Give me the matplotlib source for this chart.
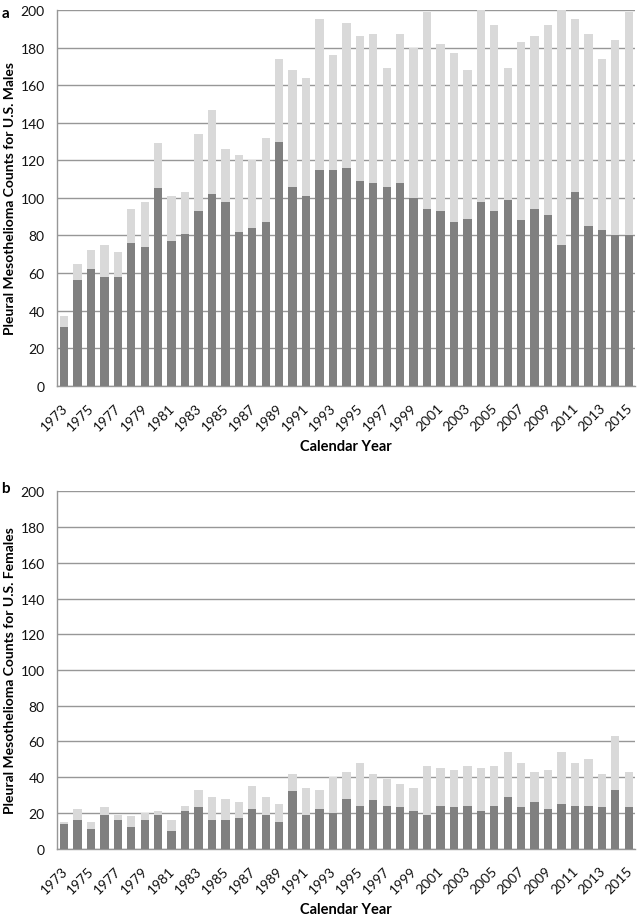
import matplotlib.pyplot as plt
import matplotlib.transforms as mtransforms
import numpy as np

# Calendar years shown on both panels
years = list(range(1973, 2016))

# panel a - U.S. males (dark part and full bar height)
male_dark = [31, 56, 62, 58, 58, 76, 74, 105, 77, 81, 93, 102, 98, 82, 84, 87,
             130, 106, 101, 115, 115, 116, 109, 108, 106, 108, 100, 94, 93, 87,
             89, 98, 93, 99, 88, 94, 91, 75, 103, 85, 83, 80, 80]
male_total = [37, 65, 72, 75, 71, 94, 98, 129, 101, 103, 134, 147, 126, 123, 120,
              132, 174, 168, 164, 195, 176, 193, 186, 187, 169, 187, 180, 199, 182,
              177, 168, 200, 192, 169, 183, 186, 192, 200, 195, 187, 174, 184, 199]

# panel b - U.S. females
female_dark = [14, 16, 11, 19, 16, 12, 16, 19, 10, 21, 23, 16, 16, 17, 22, 19, 15,
               32, 19, 22, 20, 28, 24, 27, 24, 23, 21, 19, 24, 23, 24, 21, 24, 29,
               23, 26, 22, 25, 24, 24, 23, 33, 23]
female_total = [15, 22, 15, 23, 19, 18, 20, 21, 16, 24, 33, 29, 28, 26, 35, 29, 25,
                42, 34, 33, 40, 43, 48, 42, 39, 36, 34, 46, 45, 44, 46, 45, 46, 54,
                48, 43, 44, 54, 48, 50, 42, 63, 43]

plt.rcParams['font.family'] = ['Lato', 'DejaVu Sans']

DARK = '#808080'
LIGHT = '#d9d9d9'
GRID = '#979797'

fig = plt.figure(figsize=(6.38, 9.2), dpi=100)
ax_a = fig.add_axes([0.0898, 0.5797, 0.9062, 0.4083])
ax_b = fig.add_axes([0.0898, 0.0766, 0.9062, 0.3881])


def draw_panel(ax, dark, total, ylabel):
    x = np.arange(len(years))
    ax.bar(x, total, width=0.62, color=LIGHT, zorder=2)
    ax.bar(x, dark, width=0.62, color=DARK, zorder=3)
    ax.set_xlim(-0.5, len(years) - 0.5)
    ax.set_ylim(0, 200)
    ax.set_yticks(range(0, 201, 20))
    ax.yaxis.grid(True, color=GRID, linewidth=1.0, zorder=1)
    ax.set_axisbelow(True)
    for side in ('top', 'right'):
        ax.spines[side].set_visible(False)
    for side in ('left', 'bottom'):
        ax.spines[side].set_color(GRID)
        ax.spines[side].set_linewidth(1.0)

    ax.set_xticks(x[::2])
    ax.set_xticklabels([str(y) for y in years[::2]], rotation=45, ha='right',
                       rotation_mode='anchor', fontsize=10)
    ax.tick_params(axis='both', length=0, colors='#111111')
    ax.tick_params(axis='x', pad=11)
    ax.tick_params(axis='y', pad=9, labelsize=10)
    # nudge the slanted year labels a little to the left
    shift = mtransforms.ScaledTranslation(-3 / 100, 0, fig.dpi_scale_trans)
    for lbl in ax.get_xticklabels():
        lbl.set_transform(lbl.get_transform() + shift)

    h = ax.get_position().height * fig.get_figheight() * fig.dpi
    w = ax.get_position().width * fig.get_figwidth() * fig.dpi
    ax.set_ylabel(ylabel, fontsize=10, fontweight='bold')
    ax.yaxis.set_label_coords(-41 / w, 0.5)
    ax.set_xlabel('Calendar Year', fontsize=10.5, fontweight='bold', va='center')
    ax.xaxis.set_label_coords(0.5, -60 / h)


draw_panel(ax_a, male_dark, male_total, 'Pleural Mesothelioma Counts for U.S. Males')
draw_panel(ax_b, female_dark, female_total, 'Pleural Mesothelioma Counts for U.S. Females')

fig.text(0.002, 0.992, 'a', fontsize=11, fontweight='bold', va='top', ha='left')
fig.text(0.002, 0.476, 'b', fontsize=11, fontweight='bold', va='top', ha='left')

fig.savefig('out.png', dpi=100)
